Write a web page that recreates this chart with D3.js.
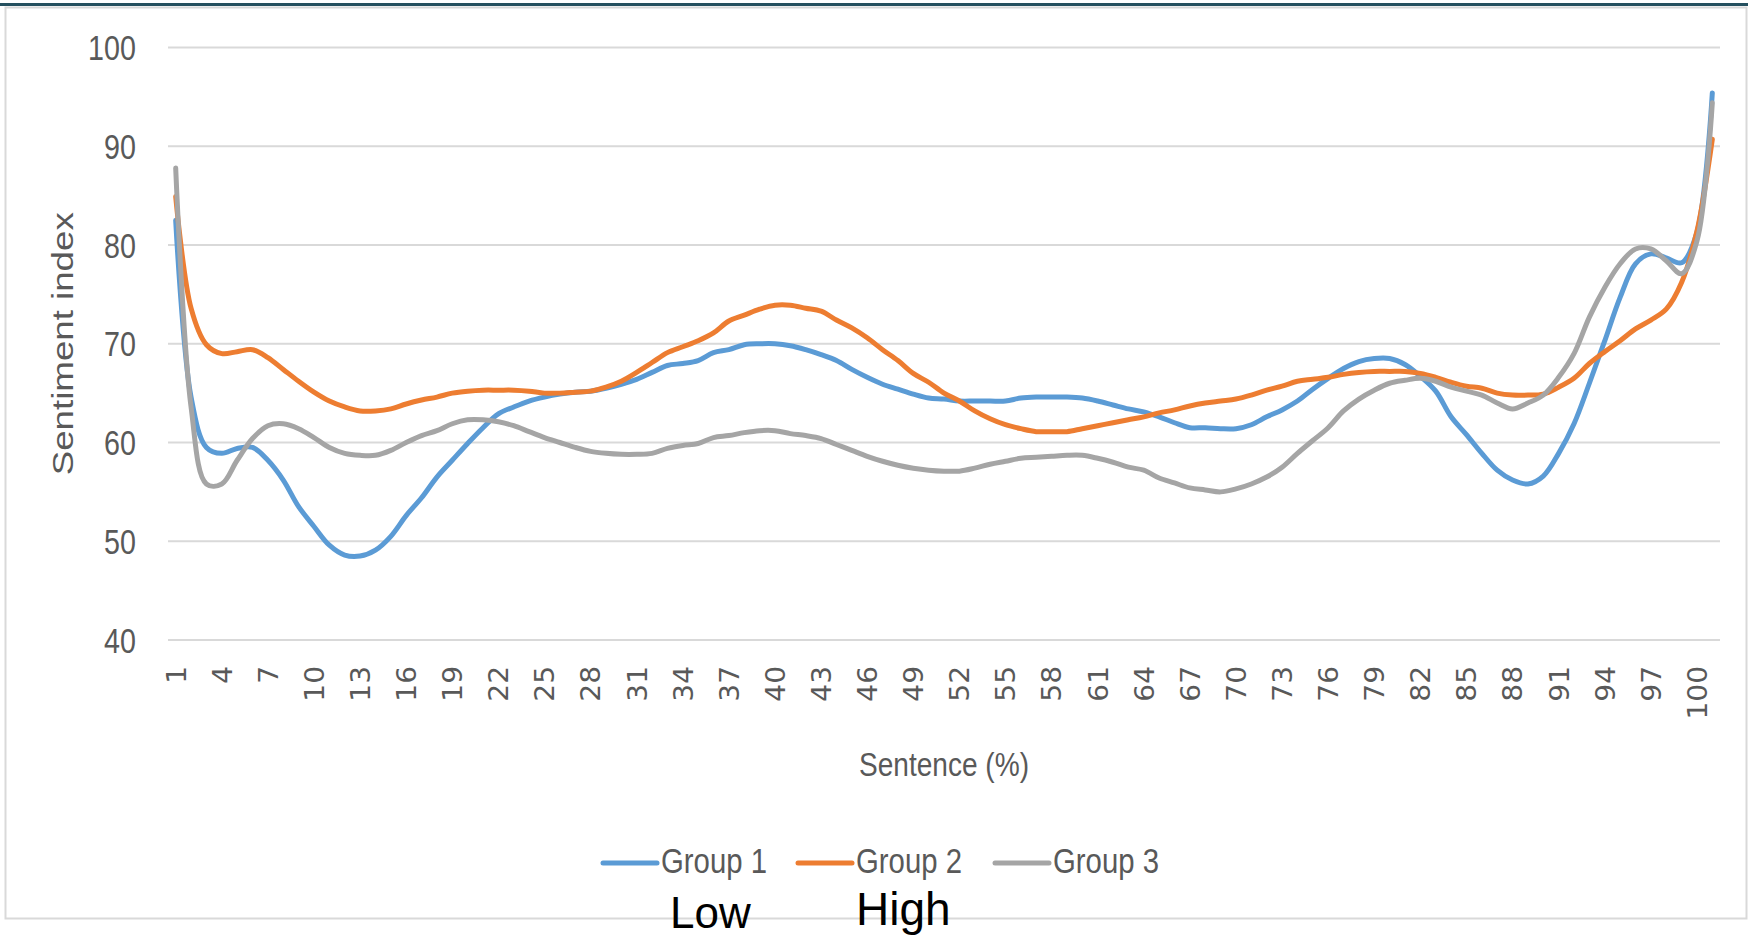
<!DOCTYPE html>
<html>
<head>
<meta charset="utf-8">
<script src="https://cdn.jsdelivr.net/npm/d3@7"></script>
<style>
  html, body { margin: 0; padding: 0; background: #ffffff; }
  svg { display: block; }
</style>
</head>
<body>
<svg id="chart" width="1754" height="936"></svg>
<script>
const categories = [1,2,3,4,5,6,7,8,9,10,11,12,13,14,15,16,17,18,19,20,21,22,23,24,25,26,27,28,29,30,31,32,33,34,35,36,37,38,39,40,41,42,43,44,45,46,47,48,49,50,51,52,53,54,55,56,57,58,59,60,61,62,63,64,65,66,67,68,69,70,71,72,73,74,75,76,77,78,79,80,81,82,83,84,85,86,87,88,89,90,91,92,93,94,95,96,97,98,99,100,101];

const group1 = [82.5,64.6,59.5,58.9,59.4,59.5,58.2,56.2,53.5,51.5,49.6,48.6,48.5,49.1,50.5,52.6,54.4,56.5,58.2,59.9,
  61.5,62.9,63.6,64.2,64.6,64.9,65.1,65.2,65.5,65.9,66.4,67.1,67.8,68.0,68.3,69.1,69.4,69.9,70.0,70.0,
  69.8,69.4,68.9,68.3,67.4,66.6,65.9,65.4,64.9,64.5,64.4,64.2,64.2,64.2,64.2,64.5,64.6,64.6,64.6,64.5,
  64.2,63.8,63.4,63.1,62.6,62.0,61.5,61.5,61.4,61.4,61.8,62.6,63.3,64.2,65.4,66.5,67.5,68.2,68.5,68.5,
  67.9,66.7,65.2,62.6,60.8,58.9,57.2,56.2,55.8,56.6,58.9,61.9,66.0,70.3,74.7,78.1,79.1,78.7,78.2,81.3,95.4];

const group2 = [84.9,73.6,69.9,69.0,69.2,69.4,68.6,67.4,66.2,65.1,64.2,63.6,63.2,63.2,63.4,63.9,64.3,64.6,65.0,65.2,
  65.3,65.3,65.3,65.2,65.0,65.0,65.1,65.2,65.6,66.2,67.1,68.1,69.1,69.7,70.3,71.1,72.3,72.9,73.5,73.9,
  73.9,73.6,73.3,72.4,71.6,70.6,69.4,68.3,67.0,66.1,65.0,64.2,63.2,62.4,61.8,61.4,61.1,61.1,61.1,61.4,
  61.7,62.0,62.3,62.6,63.0,63.3,63.7,64.0,64.2,64.4,64.8,65.3,65.7,66.2,66.4,66.6,66.9,67.1,67.2,67.2,
  67.2,67.0,66.6,66.1,65.7,65.5,65.0,64.8,64.8,64.9,65.6,66.5,68.0,69.2,70.3,71.5,72.4,73.5,76.2,81.4,90.7];

const group3 = [87.8,63.6,55.8,55.8,58.2,60.4,61.7,61.9,61.4,60.5,59.5,58.9,58.7,58.7,59.2,60.0,60.7,61.2,61.9,62.3,
  62.3,62.1,61.7,61.1,60.5,60.0,59.5,59.1,58.9,58.8,58.8,58.9,59.4,59.7,59.9,60.5,60.7,61.0,61.2,61.2,
  60.9,60.7,60.4,59.8,59.2,58.6,58.1,57.7,57.4,57.2,57.1,57.1,57.4,57.8,58.1,58.4,58.5,58.6,58.7,58.7,
  58.4,58.0,57.5,57.2,56.4,55.9,55.4,55.2,55.0,55.3,55.8,56.5,57.5,58.9,60.2,61.5,63.2,64.4,65.3,66.0,
  66.3,66.5,66.2,65.6,65.2,64.8,64.0,63.4,64.0,64.8,66.6,69.0,72.7,75.7,78.1,79.6,79.6,78.4,77.1,80.4,94.4];

const xTickLabels = [1,4,7,10,13,16,19,22,25,28,31,34,37,40,43,46,49,52,55,58,61,64,67,70,73,76,79,82,85,88,91,94,97,100];
const yTickLabels = [40,50,60,70,80,90,100];
const seriesNames = ["Group 1","Group 2","Group 3"];
const seriesColors = ["#5b9bd5","#ed7d31","#a5a5a5"];
const xTitle = "Sentence (%)";
const yTitle = "Sentiment index";

const series = [group1, group2, group3];

const svg = d3.select("#chart");
const plotLeft = 168, plotRight = 1720, plotTop = 47.5, plotBottom = 640;
const textColor = "#595959";

// frame
svg.append("rect").attr("x", 5.5).attr("y", 7.5).attr("width", 1741).attr("height", 911)
  .attr("fill", "#ffffff").attr("stroke", "#d9d9d9").attr("stroke-width", 2);
svg.append("line").attr("x1", 0).attr("x2", 1748).attr("y1", 4.5).attr("y2", 4.5)
  .attr("stroke", "#25505f").attr("stroke-width", 3);

const x = d3.scalePoint().domain(categories).range([plotLeft, plotRight]).padding(0.5);
const y = d3.scaleLinear().domain([40, 100]).range([plotBottom, plotTop]);

// gridlines
svg.append("g").selectAll("line").data(yTickLabels).join("line")
  .attr("x1", plotLeft).attr("x2", plotRight)
  .attr("y1", d => y(d)).attr("y2", d => y(d))
  .attr("stroke", "#d9d9d9").attr("stroke-width", 2);

// y axis
const yAxis = svg.append("g").attr("transform", `translate(${plotLeft},0)`)
  .call(d3.axisLeft(y).tickValues(yTickLabels).tickSize(0).tickFormat(d3.format("d")));
yAxis.select(".domain").remove();
yAxis.selectAll("text")
  .attr("x", null).attr("dy", null)
  .attr("transform", "translate(-32,12) scale(0.82,1)")
  .attr("text-anchor", "end")
  .attr("fill", textColor)
  .style("font-family", "'Liberation Sans', Arial, sans-serif")
  .style("font-size", "35px");

// x axis
const xAxis = svg.append("g").attr("transform", `translate(0,${plotBottom})`)
  .call(d3.axisBottom(x).tickValues(xTickLabels).tickSize(0));
xAxis.select(".domain").remove();
xAxis.selectAll("text")
  .attr("x", 0).attr("y", 0).attr("dy", "0.36em")
  .attr("transform", "translate(0,26) rotate(-90) scale(1.08,1)")
  .attr("text-anchor", "end")
  .attr("fill", textColor)
  .style("font-family", "'DejaVu Sans', Verdana, sans-serif")
  .style("font-size", "26px");

// lines
const line = d3.line()
  .x((d, i) => x(categories[i]))
  .y(d => y(d))
  .curve(d3.curveCatmullRom.alpha(0.5));

svg.append("g").selectAll("path").data(series).join("path")
  .attr("d", d => line(d))
  .attr("fill", "none")
  .attr("stroke", (d, i) => seriesColors[i])
  .attr("stroke-width", 5)
  .attr("stroke-linejoin", "round")
  .attr("stroke-linecap", "round");

// axis titles
svg.append("text").text(xTitle)
  .attr("x", (plotLeft + plotRight) / 2).attr("y", 776)
  .attr("text-anchor", "middle")
  .attr("fill", textColor)
  .attr("textLength", 170).attr("lengthAdjust", "spacingAndGlyphs")
  .style("font-family", "'Liberation Sans', Arial, sans-serif")
  .style("font-size", "33px");

svg.append("text").text(yTitle)
  .attr("transform", `translate(73,${(plotTop + plotBottom) / 2}) rotate(-90)`)
  .attr("text-anchor", "middle")
  .attr("fill", textColor)
  .attr("textLength", 263).attr("lengthAdjust", "spacingAndGlyphs")
  .style("font-family", "'Liberation Sans', Arial, sans-serif")
  .style("font-size", "29px");

// legend
const legendX = [603, 798, 995];
const legendY = 863;
const leg = svg.append("g").selectAll("g").data(seriesNames).join("g");
leg.append("line")
  .attr("x1", (d, i) => legendX[i]).attr("x2", (d, i) => legendX[i] + 54)
  .attr("y1", legendY).attr("y2", legendY)
  .attr("stroke", (d, i) => seriesColors[i]).attr("stroke-width", 5)
  .attr("stroke-linecap", "round");
leg.append("text").text(d => d)
  .attr("x", (d, i) => legendX[i] + 58).attr("y", 873)
  .attr("fill", textColor)
  .attr("textLength", 106).attr("lengthAdjust", "spacingAndGlyphs")
  .style("font-family", "'Liberation Sans', Arial, sans-serif")
  .style("font-size", "35px");

// extra annotations
svg.append("text").text("Low").attr("x", 670).attr("y", 928)
  .attr("fill", "#000000")
  .style("font-family", "'Liberation Sans', Arial, sans-serif").style("font-size", "44px");
svg.append("text").text("High").attr("x", 856).attr("y", 925)
  .attr("fill", "#000000")
  .style("font-family", "'Liberation Sans', Arial, sans-serif").style("font-size", "46px");
</script>
</body>
</html>
